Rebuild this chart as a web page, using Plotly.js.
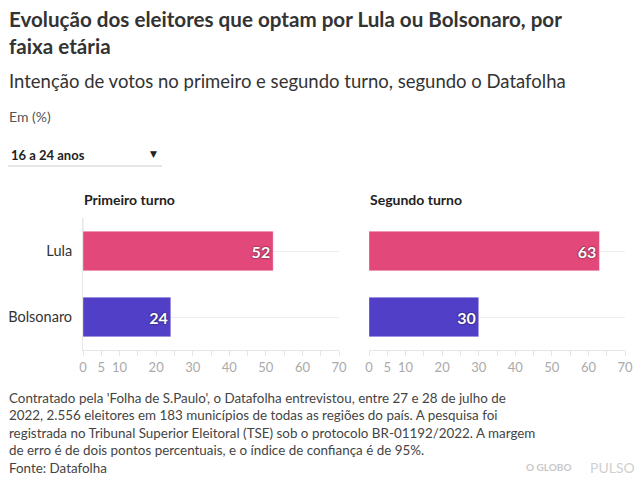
<!DOCTYPE html>
<html>
<head>
<meta charset="utf-8">
<script src="https://cdn.plot.ly/plotly-3.0.1.min.js"></script>
<style>html,body{margin:0;padding:0;background:#fff;}#chart{width:640px;height:487px;}</style>
</head>
<body>
<div id="chart"></div>
<script>
// Data
const candidates = ["Lula", "Bolsonaro"];
const primeiroTurno = [52, 24];
const segundoTurno = [63, 30];
const barColors = ["#e2487a", "#513fc8"];
const tickValues = [0, 5, 10, 20, 30, 40, 50, 60, 70];
const panelTitles = ["Primeiro turno", "Segundo turno"];
const ageGroup = "16 a 24 anos";

const W = 640, H = 487;
const px = x => x / W;
const py = y => 1 - y / H;
const FONT = "Lato, 'Source Sans Pro', sans-serif";

function barTrace(vals, xa, ya) {
  return {
    type: "bar", orientation: "h",
    x: vals, y: candidates,
    xaxis: xa, yaxis: ya,
    marker: { color: barColors, line: { color: "rgba(255,255,255,0.35)", width: 1 } },
    text: vals.map(String),
    textposition: "inside",
    insidetextanchor: "end",
    textfont: { family: FONT, size: 16, color: "#fff", weight: 700, shadow: "0px 0px 2px rgba(0,0,0,0.8)" },
    hoverinfo: "x+y",
    showlegend: false,
    cliponaxis: false
  };
}

const xCommon = {
  range: [0, 70], fixedrange: true,
  tickmode: "array", tickvals: tickValues, ticktext: tickValues.map(String),
  ticks: "outside", ticklen: 5, tickcolor: "#e6e6e6",
  minor: { dtick: 5, tick0: 0, ticks: "outside", ticklen: 5, tickcolor: "#e6e6e6", showgrid: false },
  showgrid: false, zeroline: false,
  showline: true, linecolor: "#e6e6e6", linewidth: 1,
  tickfont: { family: FONT, size: 13, color: "#aaaaaa" }
};
const yDomain = [py(350), py(218)];
const yCommon = {
  domain: yDomain, range: [1.5, -0.5], type: "category", fixedrange: true,
  showgrid: true, gridcolor: "#eeeeee", zeroline: false,
  ticks: "", tickfont: { family: FONT, size: 14.5, color: "#333" }
};

const layout = {
  width: W, height: H,
  margin: { l: 0, r: 0, t: 0, b: 0 },
  paper_bgcolor: "#fff", plot_bgcolor: "rgba(0,0,0,0)",
  bargap: 0.4,
  font: { family: FONT, color: "#333" },
  xaxis: Object.assign({}, xCommon, { domain: [px(83), px(339)], anchor: "y" }),
  xaxis2: Object.assign({}, xCommon, { domain: [px(369), px(625)], anchor: "y2" }),
  yaxis: Object.assign({}, yCommon, { anchor: "x", showline: true, linecolor: "#e6e6e6", ticklabelstandoff: 7 }),
  yaxis2: Object.assign({}, yCommon, { anchor: "x2", showticklabels: false, showline: false }),
  shapes: [
    { type: "line", xref: "paper", yref: "paper", x0: px(8), x1: px(162), y0: py(166), y1: py(166), line: { color: "#cccccc", width: 1 } },
    { type: "line", xref: "paper", yref: "paper", x0: px(83), x1: px(83), y0: py(218), y1: py(231), line: { color: "#e6e6e6", width: 1 } }
  ],
  annotations: [
    { text: "<b>Evolução dos eleitores que optam por Lula ou Bolsonaro, por<br>faixa etária</b>", xref: "paper", yref: "paper", x: px(7), y: py(5), xanchor: "left", yanchor: "top", align: "left", showarrow: false, font: { family: FONT, size: 20.6, color: "#333" } },
    { text: "Intenção de votos no primeiro e segundo turno, segundo o Datafolha", xref: "paper", yref: "paper", x: px(7), y: py(68), xanchor: "left", yanchor: "top", align: "left", showarrow: false, font: { family: FONT, size: 18.5, color: "#333" } },
    { text: "Em (%)", xref: "paper", yref: "paper", x: px(7), y: py(106), xanchor: "left", yanchor: "top", align: "left", showarrow: false, font: { family: FONT, size: 14, color: "#555" } },
    { text: "<b>" + ageGroup + "</b>", xref: "paper", yref: "paper", x: px(9), y: py(145), xanchor: "left", yanchor: "top", align: "left", showarrow: false, font: { family: FONT, size: 13, color: "#222" } },
    { text: "▼", xref: "paper", yref: "paper", x: px(153), y: py(154), xanchor: "center", yanchor: "middle", showarrow: false, font: { family: "DejaVu Sans", size: 9, color: "#222" } },
    { text: "<b>" + panelTitles[0] + "</b>", xref: "paper", yref: "paper", x: px(82), y: py(189), xanchor: "left", yanchor: "top", align: "left", showarrow: false, font: { family: FONT, size: 14, color: "#222" } },
    { text: "<b>" + panelTitles[1] + "</b>", xref: "paper", yref: "paper", x: px(368), y: py(189), xanchor: "left", yanchor: "top", align: "left", showarrow: false, font: { family: FONT, size: 14, color: "#222" } },
    { text: "Contratado pela 'Folha de S.Paulo', o Datafolha entrevistou, entre 27 e 28 de julho de<br>2022, 2.556 eleitores em 183 municípios de todas as regiões do país. A pesquisa foi<br>registrada no Tribunal Superior Eleitoral (TSE) sob o protocolo BR-01192/2022. A margem<br>de erro é de dois pontos percentuais, e o índice de confiança é de 95%.<br>Fonte: Datafolha", xref: "paper", yref: "paper", x: px(7), y: py(388), xanchor: "left", yanchor: "top", align: "left", showarrow: false, font: { family: FONT, size: 13.4, color: "#444" } },
    { text: "<b>O GLOBO</b>", xref: "paper", yref: "paper", x: px(548), y: py(467), xanchor: "center", yanchor: "middle", showarrow: false, font: { family: FONT, size: 10, color: "#c8c8c8" } },
    { text: "PULSO", xref: "paper", yref: "paper", x: px(612), y: py(467), xanchor: "center", yanchor: "middle", showarrow: false, font: { family: FONT, size: 14, color: "#d0d0d0" } }
  ]
};

Plotly.newPlot("chart", [barTrace(primeiroTurno, "x", "y"), barTrace(segundoTurno, "x2", "y2")], layout, { displayModeBar: false, staticPlot: false });
</script>
</body>
</html>
